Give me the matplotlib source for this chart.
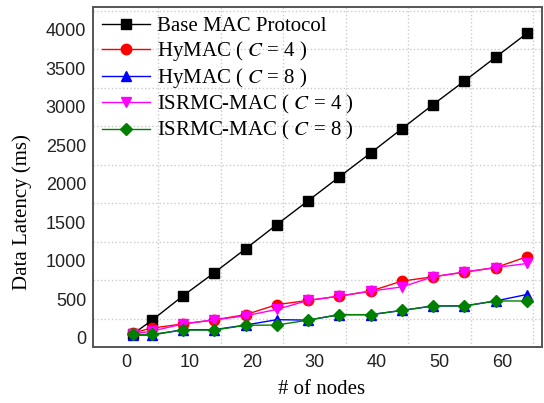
import matplotlib
matplotlib.use("Agg")
import matplotlib.pyplot as plt
from matplotlib.ticker import FixedLocator

# Number of nodes
nodes = [1, 4, 9, 14, 19, 24, 29, 34, 39, 44, 49, 54, 59, 64]

# Data latency (ms)
base_mac = [50, 225, 545, 845, 1155, 1470, 1780, 2090, 2400, 2715, 3030, 3335, 3645, 3955]
hymac_c4 = [65, 125, 180, 232, 300, 430, 485, 541, 606, 736, 792, 853, 912, 1052]
hymac_c8 = [35, 35, 105, 105, 165, 235, 229, 300, 300, 355, 413, 413, 478, 562]
isrmc_c4 = [50, 85, 180, 232, 285, 368, 485, 541, 606, 660, 792, 853, 912, 965]
isrmc_c8 = [43, 43, 100, 100, 162, 165, 229, 300, 300, 355, 413, 413, 478, 478]

series = [
    (base_mac, "black", "s", "Base MAC Protocol"),
    (hymac_c4, "#ff0000", "o", "HyMAC ( $C$ = 4 )"),
    (hymac_c8, "#0000ff", "^", "HyMAC ( $C$ = 8 )"),
    (isrmc_c4, "#ff00ff", "v", "ISRMC-MAC ( $C$ = 4 )"),
    (isrmc_c8, "#008000", "D", "ISRMC-MAC ( $C$ = 8 )"),
]

plt.rcParams["mathtext.fontset"] = "stix"

fig = plt.figure(figsize=(5.44, 4.03), dpi=100)
ax = fig.add_axes([0.171, 0.139, 0.825, 0.844])

for vals, col, mk, lab in series:
    ms = 6.5 if mk in ("s", "D") else 7.5
    ax.plot(nodes, vals, color=col, marker=mk, markersize=ms, linewidth=1.0,
            markeredgecolor=col, markerfacecolor=col, label=lab)

ax.set_xlim(-5.4, 66.4)
ax.set_ylim(-120, 4300)
ax.set_xticks([0, 10, 20, 30, 40, 50, 60])
ax.set_yticks(range(0, 4001, 500))
ax.xaxis.set_minor_locator(FixedLocator([5, 15, 25, 35, 45, 55, 65]))
ax.yaxis.set_minor_locator(FixedLocator([250 + 500 * i for i in range(9)]))
ax.grid(which="minor", color="#cccccc", linestyle=":", linewidth=1.0)
ax.grid(which="major", visible=False)
ax.tick_params(which="both", length=0, labelsize=13, pad=5)
for lbl in ax.get_xticklabels() + ax.get_yticklabels():
    lbl.set_family("Liberation Sans")
    lbl.set_color("#222222")

for sp in ax.spines.values():
    sp.set_color("#555555")
    sp.set_linewidth(1.4)

ax.set_xlabel("# of nodes", family="Liberation Serif", fontsize=15, labelpad=5)
ax.xaxis.set_label_coords(0.51, -0.098)
ax.set_ylabel("Data Latency (ms)", family="Liberation Serif", fontsize=15)
ax.yaxis.set_label_coords(-0.137, 0.397)

leg = ax.legend(loc="upper left", frameon=False, prop={"family": "Liberation Serif", "size": 15},
                handlelength=2.3, handletextpad=0.3, labelspacing=0.15,
                borderaxespad=0.1, borderpad=0.35)

fig.savefig("out.png", dpi=100)
